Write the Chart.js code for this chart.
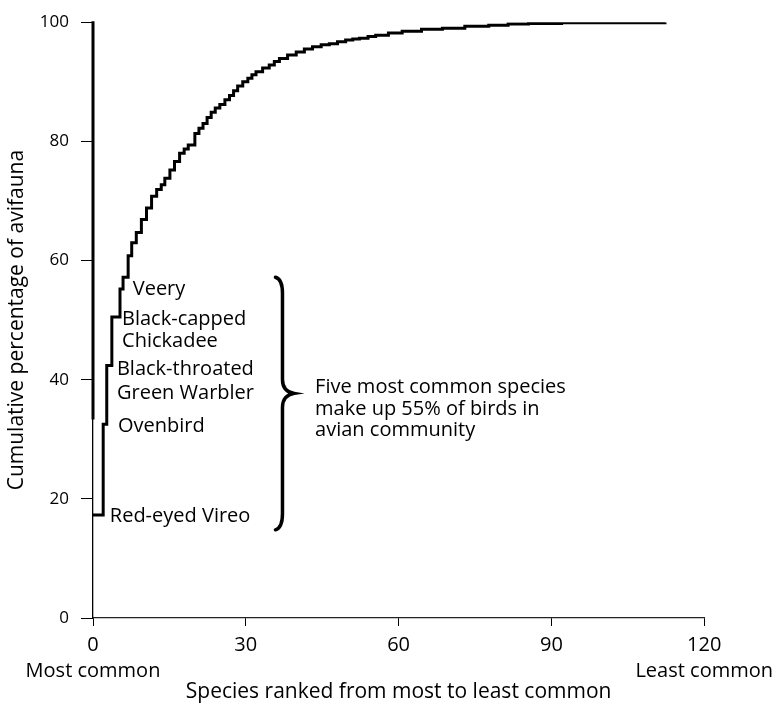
<!DOCTYPE html>
<html>
<head>
<meta charset="utf-8">
<title>Cumulative percentage of avifauna</title>
<script src="https://cdn.jsdelivr.net/npm/chart.js@4.4.0/dist/chart.umd.min.js"></script>
<style>
  body { margin: 0; background: #fff; }
  #wrap { width: 779px; height: 707px; }
</style>
</head>
<body>
<div id="wrap"><canvas id="grafico" width="779" height="707"></canvas></div>
<script>
// rank where each step ends and cumulative % reached there
const ranks = [0, 2, 2.7, 3.7, 5.3, 5.9, 6.9, 7.6, 8.5, 9.5,
  10.5, 11.5, 12.5, 13.4, 14.1, 15.1, 16, 17, 17.9, 18.7,
  20, 20.8, 21.6, 22.4, 23.2, 24, 24.9, 25.9, 26.8, 27.6,
  28.4, 29.4, 30.4, 31.2, 32, 33.3, 34.6, 35.6, 36.6, 38.2,
  39.9, 41.5, 43.1, 44.8, 46.4, 48, 49.6, 51, 52.3, 54,
  55.5, 58, 60.7, 64.5, 68.6, 73, 77.7, 81.5, 85.5, 92, 112.3];
const cumulative = [17.3, 32.5, 42.4, 50.5, 55.2, 57.2, 60.8, 63, 64.7, 66.9,
  68.8, 70.8, 71.9, 72.7, 73.8, 75.2, 76.6, 78, 78.7, 79.4,
  81.3, 82.2, 83, 84, 84.9, 85.6, 86.2, 87, 87.7, 88.5,
  89.3, 90, 90.6, 91.2, 91.7, 92.3, 92.8, 93.4, 93.9, 94.5,
  95, 95.5, 95.9, 96.2, 96.4, 96.7, 97, 97.2, 97.3, 97.6,
  97.8, 98.2, 98.5, 98.8, 99, 99.3, 99.5, 99.7, 99.8, 99.9, 100];

const xTicks = [0, 30, 60, 90, 120];
const yTicks = [0, 20, 40, 60, 80, 100];
const xEndLabels = { 0: "Most common", 120: "Least common" };

const speciesNames = ["Veery", "Black-capped", "Chickadee", "Black-throated",
  "Green Warbler", "Ovenbird", "Red-eyed Vireo"];
const braceText = ["Five most common species", "make up 55% of birds in", "avian community"];

const FONTE = "'Open Sans', 'Noto Sans', sans-serif";
Chart.defaults.font.family = FONTE;
Chart.defaults.color = "#000";

// textos das especies + chave
const anotacoes = {
  id: "anotacoes",
  afterDatasetsDraw(chart) {
    const { ctx } = chart;
    const x = chart.scales.x;
    const y = chart.scales.y;

    ctx.save();

    // eixo y mais grosso na parte de cima, como no original
    ctx.strokeStyle = "#000";
    ctx.lineWidth = 3;
    ctx.beginPath();
    ctx.moveTo(x.getPixelForValue(0), y.getPixelForValue(100) - 1);
    ctx.lineTo(x.getPixelForValue(0), y.getPixelForValue(33.3));
    ctx.stroke();

    // posicoes em unidades do grafico (rank, %)
    const lugares = [[7.8, 55.2], [5.7, 50.2], [5.7, 46.5], [4.7, 41.7], [4.7, 37.7], [4.9, 32.2], [3.3, 17]];

    ctx.fillStyle = "#000";
    ctx.font = "20px " + FONTE;
    ctx.textAlign = "left";
    ctx.textBaseline = "middle";
    speciesNames.forEach((nome, i) => {
      ctx.fillText(nome, x.getPixelForValue(lugares[i][0]), y.getPixelForValue(lugares[i][1]));
    });

    braceText.forEach((linha, i) => {
      ctx.fillText(linha, x.getPixelForValue(43.6), y.getPixelForValue(38.7 - i * 3.6));
    });

    // chave "}"
    const bx = x.getPixelForValue(37.2);
    const tipX = x.getPixelForValue(39.5);
    const top = y.getPixelForValue(57.2);
    const mid = y.getPixelForValue(37.7);
    const bot = y.getPixelForValue(14.8);
    ctx.lineWidth = 3.5;
    ctx.lineCap = "round";
    ctx.beginPath();
    ctx.moveTo(bx - 7, top);
    ctx.quadraticCurveTo(bx, top + 2, bx, top + 16);
    ctx.lineTo(bx, mid - 14);
    ctx.quadraticCurveTo(bx, mid - 2, tipX, mid);
    ctx.quadraticCurveTo(bx, mid + 2, bx, mid + 14);
    ctx.lineTo(bx, bot - 16);
    ctx.quadraticCurveTo(bx, bot - 2, bx - 7, bot);
    ctx.stroke();
    ctx.restore();
  }
};

const pontos = ranks.map((r, i) => ({ x: r, y: cumulative[i] }));

const ctx = document.getElementById("grafico").getContext("2d");

new Chart(ctx, {
  type: "line",
  data: {
    datasets: [{
      data: pontos,
      borderColor: "#000",
      borderWidth: 3,
      pointRadius: 0,
      stepped: true,
      fill: false
    }]
  },
  options: {
    responsive: false,
    animation: false,
    layout: { padding: { top: 18, right: 73, bottom: 0, left: 0 } },
    plugins: {
      legend: { display: false },
      tooltip: { enabled: false }
    },
    scales: {
      x: {
        type: "linear",
        min: 0,
        max: 120,
        afterBuildTicks: (s) => { s.ticks = xTicks.map(v => ({ value: v })); },
        afterFit: (s) => { s.height = 89; },
        ticks: {
          autoSkip: false,
          maxRotation: 0,
          padding: 6,
          font: { size: 20, lineHeight: 1.3 },
          callback: (v) => xEndLabels[v] ? [String(v), xEndLabels[v]] : String(v)
        },
        grid: { drawOnChartArea: false, tickLength: 8, tickColor: "#000", tickWidth: 1 },
        border: { color: "#222", width: 1.2 },
        title: {
          display: true,
          text: "Species ranked from most to least common",
          font: { size: 21 },
          padding: { top: 0, bottom: 2 }
        }
      },
      y: {
        min: 0,
        max: 100,
        afterBuildTicks: (s) => { s.ticks = yTicks.map(v => ({ value: v })); },
        afterFit: (s) => { s.width = 93; },
        ticks: { padding: 12, font: { size: 17 } },
        grid: { drawOnChartArea: false, tickLength: 12, tickColor: "#000", tickWidth: 1 },
        border: { color: "#000", width: 1.3 },
        title: {
          display: true,
          text: "Cumulative percentage of avifauna",
          font: { size: 21 },
          padding: { top: 4, bottom: 0 }
        }
      }
    }
  },
  plugins: [anotacoes]
});
</script>
</body>
</html>
